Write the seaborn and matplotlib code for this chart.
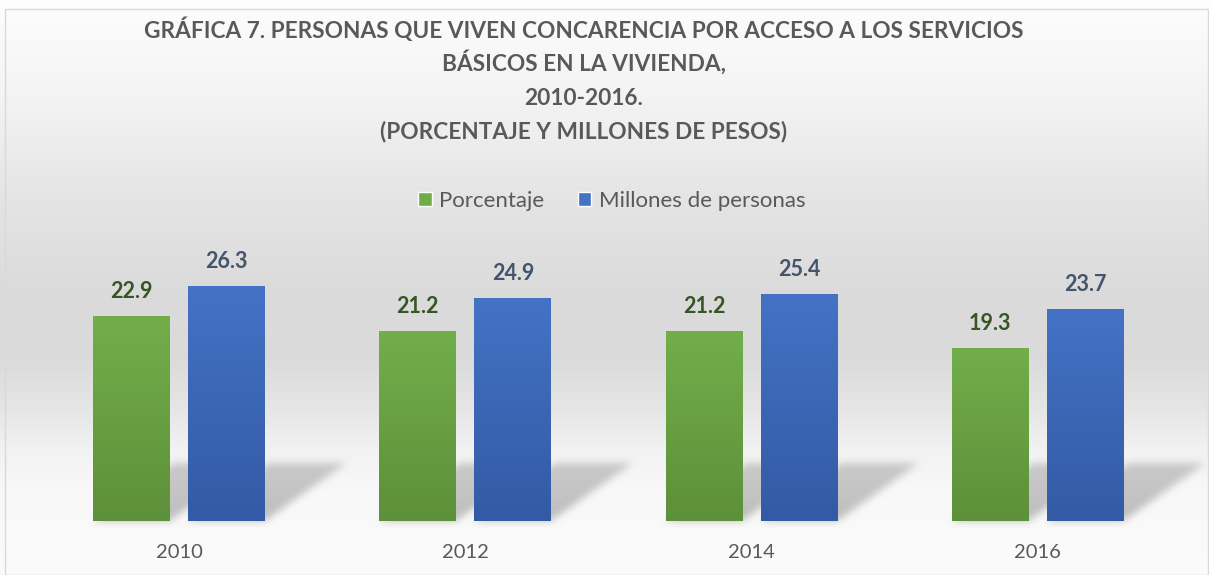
import numpy as np
import pandas as pd
import matplotlib
matplotlib.use("Agg")
import matplotlib.pyplot as plt
from matplotlib.patches import Patch, Rectangle
import seaborn as sns

# --- data ---
YEARS = ["2010", "2012", "2014", "2016"]
PORCENTAJE = [22.9, 21.2, 21.2, 19.3]
MILLONES = [26.3, 24.9, 25.4, 23.7]
SERIES = ["Porcentaje", "Millones de personas"]

TITLE_LINES = ["GRÁFICA 7. PERSONAS QUE VIVEN CONCARENCIA POR ACCESO A LOS SERVICIOS",
               "BÁSICOS EN LA VIVIENDA,",
               "2010-2016.",
               "(PORCENTAJE Y MILLONES DE PESOS)"]

W, H = 1209, 575
GREEN, BLUE = "#70AD47", "#4472C4"
# (top, bottom) colours of each bar gradient
GRADIENTS = [((0.447, 0.682, 0.290), (0.365, 0.565, 0.227)),
             ((0.267, 0.447, 0.773), (0.200, 0.353, 0.643))]
LABEL_COLORS = ["#375623", "#44546A"]
TEXT_GRAY = "#595959"

sns.set_theme(style="white")
plt.rcParams["font.family"] = ["Lato", "DejaVu Sans"]

df = pd.DataFrame({
    "year": YEARS * 2,
    "serie": [SERIES[0]] * len(YEARS) + [SERIES[1]] * len(YEARS),
    "valor": PORCENTAJE + MILLONES,
})

fig = plt.figure(figsize=(W / 100, H / 100), dpi=100)
bg_ax = fig.add_axes([0, 0, 1, 1], zorder=0)
ax = fig.add_axes([36 / W, 1 - 520.7 / H, (1181 - 36) / W, 268 / H], zorder=1)
ax.patch.set_alpha(0)

sns.barplot(data=df, x="year", y="valor", hue="serie",
            palette={SERIES[0]: GREEN, SERIES[1]: BLUE},
            width=0.664, gap=0.19, saturation=1, legend=False, ax=ax)

ax.set_xlabel("")
ax.set_ylabel("")
ax.set_yticks([])
sns.despine(ax=ax, left=True, bottom=True)
ax.tick_params(axis="x", length=0, pad=17, labelsize=14.5, labelcolor=TEXT_GRAY)

# gradient fill on each bar, then value labels
for cont, (top, bot), lc in zip(ax.containers, GRADIENTS, LABEL_COLORS):
    for bar in cont:
        x0, y0 = bar.get_x(), bar.get_y()
        bw, bh = bar.get_width(), bar.get_height()
        t = np.linspace(0, 1, 128)[:, None, None]
        grad = np.array(top)[None, None, :] * (1 - t) + np.array(bot)[None, None, :] * t
        ax.imshow(grad, extent=(x0, x0 + bw, y0, y0 + bh), origin="upper",
                  aspect="auto", zorder=2, interpolation="bilinear")
        bar.set_facecolor("none")
        bar.set_edgecolor("none")
    ax.bar_label(cont, fmt="%.1f", padding=10, fontsize=15.5, fontweight="bold",
                 color=lc)

ax.set_xlim(-0.5, len(YEARS) - 0.5)
ax.set_ylim(0, 30)

# --- background gradient with soft perspective shadows behind the bars ---
rows = np.arange(H)
stops_y = [0, 100, 200, 300, 360, 410, 450, 490, 575]
stops_v = [253, 243, 228, 218, 219, 230, 242, 248, 251]
col = np.interp(rows, stops_y, stops_v) / 255.0
bg = np.repeat(col[:, None], W, axis=1)

mask = np.zeros((H, W))
shadow_h, shadow_dx = 57, 80
for cont in ax.containers:
    for bar in cont:
        (px0, pb), (px1, _) = ax.transData.transform(
            [(bar.get_x(), 0), (bar.get_x() + bar.get_width(), 0)])
        base = H - pb
        for r in range(int(base - shadow_h), int(base) + 1):
            t = (base - r) / shadow_h
            a = int(px0 + t * shadow_dx)
            b = int(px1 + t * shadow_dx)
            mask[r, max(a, 0):min(b, W)] = 1.0 - 0.25 * t

kernel = np.ones(9) / 9
for _ in range(2):
    mask = np.apply_along_axis(lambda v: np.convolve(v, kernel, mode="same"), 1, mask)
    mask = np.apply_along_axis(lambda v: np.convolve(v, kernel, mode="same"), 0, mask)
bg = bg * (1 - 0.24 * mask)

bg_ax.imshow(np.dstack([bg, bg, bg]), extent=(0, W, H, 0), aspect="auto")
bg_ax.set_xlim(0, W)
bg_ax.set_ylim(H, 0)
bg_ax.add_patch(Rectangle((5, 9), W - 6.5, H - 9.5, fill=False,
                          edgecolor="#D9D9D9", linewidth=1))
bg_ax.axis("off")

# --- title, one text per line so the line pitch matches ---
for line, baseline in zip(TITLE_LINES, [38, 71, 105, 138]):
    fig.text(584 / W, 1 - baseline / H, line, ha="center", va="baseline",
             fontsize=16.3, fontweight="bold", color=TEXT_GRAY)

handles = [Patch(facecolor=GREEN), Patch(facecolor=BLUE)]
fig.legend(handles, SERIES, loc="center", bbox_to_anchor=(612 / W, 1 - 201 / H),
           ncol=2, frameon=False, fontsize=16, handlelength=0.6,
           handleheight=0.6, handletextpad=0.35, columnspacing=1.5,
           labelcolor=TEXT_GRAY)

fig.savefig("out.png", dpi=100)
